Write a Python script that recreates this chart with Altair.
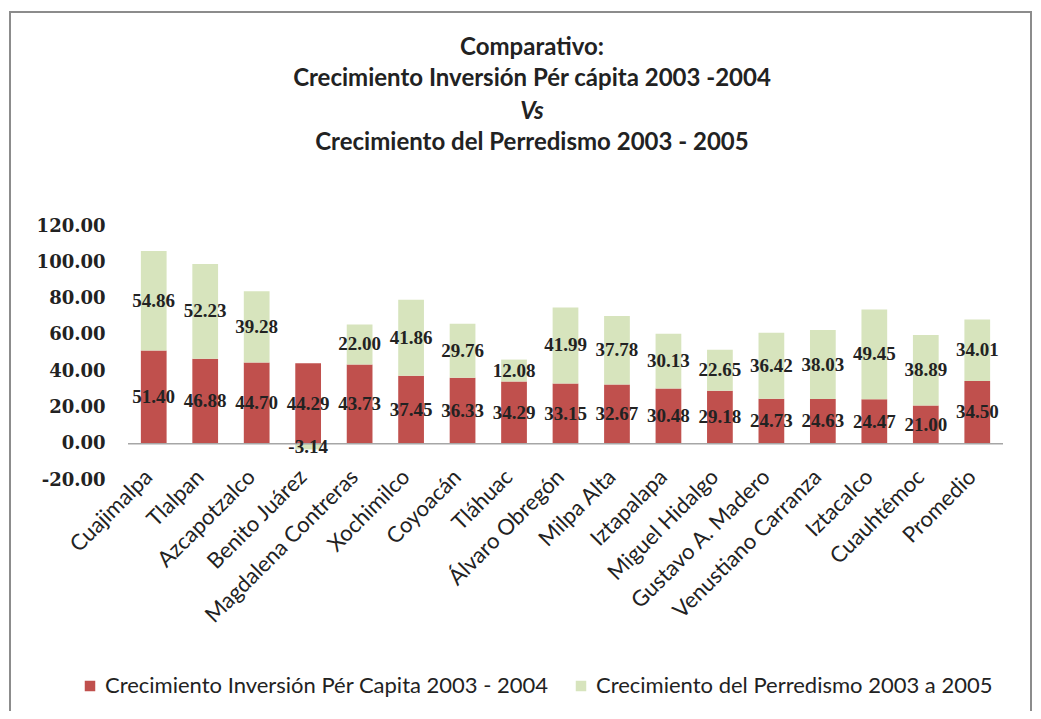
import altair as alt
import pandas as pd

categorias = ["Cuajimalpa", "Tlalpan", "Azcapotzalco", "Benito Juárez", "Magdalena Contreras",
              "Xochimilco", "Coyoacán", "Tláhuac", "Álvaro Obregón", "Milpa Alta", "Iztapalapa",
              "Miguel Hidalgo", "Gustavo A. Madero", "Venustiano Carranza", "Iztacalco",
              "Cuauhtémoc", "Promedio"]
inversion = [51.40, 46.88, 44.70, 44.29, 43.73, 37.45, 36.33, 34.29, 33.15, 32.67, 30.48,
             29.18, 24.73, 24.63, 24.47, 21.00, 34.50]
perredismo = [54.86, 52.23, 39.28, -3.14, 22.00, 41.86, 29.76, 12.08, 41.99, 37.78, 30.13,
              22.65, 36.42, 38.03, 49.45, 38.89, 34.01]
series = ["Crecimiento Inversión Pér Capita 2003 - 2004", "Crecimiento del Perredismo 2003 a 2005"]
colores = ["#C0504D", "#D7E4BD"]
y_ticks = [-20, 0, 20, 40, 60, 80, 100, 120]
titulo = ["Comparativo:", "Crecimiento Inversión Pér cápita 2003 -2004", "Vs",
          "Crecimiento del Perredismo 2003 - 2005"]

rows = []
for i, c in enumerate(categorias):
    rows.append({"cat": c, "serie": series[0], "orden": 0, "valor": inversion[i]})
    rows.append({"cat": c, "serie": series[1], "orden": 1, "valor": perredismo[i]})
df = pd.DataFrame(rows)

base = alt.Chart(df).transform_stack(
    stack="valor", groupby=["cat"], as_=["v0", "v1"],
    sort=[alt.SortField("orden", "ascending")]
).transform_calculate(
    mid="(datum.v0 + datum.v1) / 2",
    lbl="replace(format(datum.valor, '.2f'), '\u2212', '-')",
)

x_axis = alt.Axis(labelAngle=-45, labelAlign="right", labelBaseline="alphabetic",
                  labelPadding=-2, domain=False, ticks=False,
                  labelFont="Lato", labelFontSize=22, labelColor="#222222",
                  labelLimit=400)
x_scale = alt.Scale(paddingInner=0.5, paddingOuter=0.25)
y_axis = alt.Axis(values=y_ticks, domain=False, ticks=False, grid=False,
                  labelExpr="replace(format(datum.value, '.2f'), '\u2212', '-')",
                  labelOverlap=False, labelSeparation=0,
                  labelFont="DejaVu Serif", labelFontSize=18, labelFontWeight="bold",
                  labelColor="#222222", labelPadding=23)
y_scale = alt.Scale(domain=[-20, 120], nice=False, zero=False)

bars = base.mark_bar().encode(
    x=alt.X("cat:N", sort=categorias, title=None, scale=x_scale, axis=x_axis),
    y=alt.Y("v0:Q", scale=y_scale, title=None, axis=y_axis),
    y2="v1:Q",
    color=alt.Color("serie:N", scale=alt.Scale(domain=series, range=colores),
                    legend=alt.Legend(title=None, orient="none", legendX=-49, legendY=449,
                                      direction="horizontal", columns=2, columnPadding=21,
                                      symbolType="square", symbolSize=110, symbolStrokeWidth=0,
                                      labelFont="Lato", labelFontSize=22, labelColor="#222222",
                                      labelLimit=600, labelOffset=4)),
)

labels = base.mark_text(font="Liberation Serif", fontSize=19, fontWeight="bold",
                        color="#222222").encode(
    x=alt.X("cat:N", sort=categorias, title=None, scale=x_scale, axis=x_axis),
    y=alt.Y("mid:Q", scale=y_scale, title=None, axis=y_axis),
    text="lbl:N",
)

zero_line = alt.Chart(alt.Data(values=[{"z": 0}])).mark_rule(
    color="#A6A6A6", strokeWidth=1.5
).encode(y=alt.Y("z:Q", scale=y_scale, title=None, axis=y_axis))

frame = alt.Chart(alt.Data(values=[{}])).mark_rect(
    fillOpacity=0, stroke="#8C8C8C", strokeWidth=2
).encode(x=alt.value(-118), x2=alt.value(903), y=alt.value(-214), y2=alt.value(520))

title_y = [-171, -140, -107, -76]
title_layers = []
for i, t in enumerate(titulo):
    title_layers.append(
        alt.Chart(alt.Data(values=[{"t": t}])).mark_text(
            font="Lato", fontSize=24, fontWeight="bold",
            fontStyle="italic" if t == "Vs" else "normal",
            color="#222222", align="center", baseline="alphabetic"
        ).encode(x=alt.value(404), y=alt.value(title_y[i]), text="t:N")
    )

chart = alt.layer(frame, bars, zero_line, labels, *title_layers).properties(
    width=875, height=254, autosize="none",
    padding={"left": 120, "top": 218, "right": 30, "bottom": 231},
    background="white",
).configure_view(strokeWidth=0)

chart.save("out.html", embed_options={"renderer": "svg", "actions": False})
